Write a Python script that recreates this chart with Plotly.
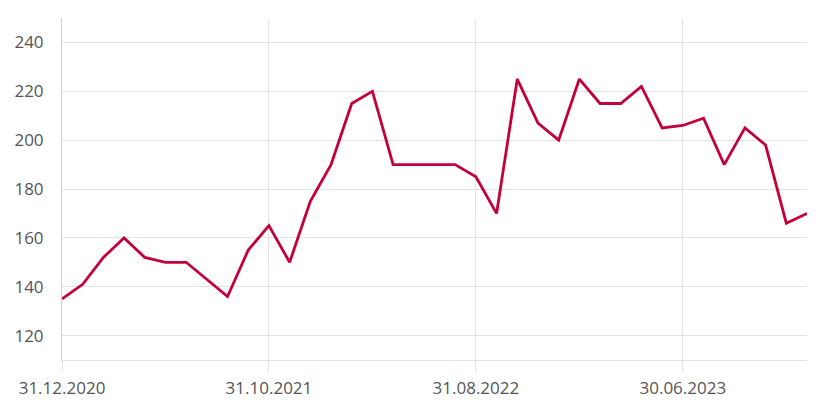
import plotly.graph_objects as go

dates = ["31.12.2020", "31.01.2021", "28.02.2021", "31.03.2021", "30.04.2021", "31.05.2021",
         "30.06.2021", "31.07.2021", "31.08.2021", "30.09.2021", "31.10.2021", "30.11.2021",
         "31.12.2021", "31.01.2022", "28.02.2022", "31.03.2022", "30.04.2022", "31.05.2022",
         "30.06.2022", "31.07.2022", "31.08.2022", "30.09.2022", "31.10.2022", "30.11.2022",
         "31.12.2022", "31.01.2023", "28.02.2023", "31.03.2023", "30.04.2023", "31.05.2023",
         "30.06.2023", "31.07.2023", "31.08.2023", "30.09.2023", "31.10.2023", "30.11.2023",
         "31.12.2023"]
values = [135, 141, 152, 160, 152, 150, 150, 143, 136, 155, 165, 150,
          175, 190, 215, 220, 190, 190, 190, 190, 185, 170, 225, 207,
          200, 225, 215, 215, 222, 205, 206, 209, 190, 205, 198, 166, 170]
x_ticks = ["31.12.2020", "31.10.2021", "31.08.2022", "30.06.2023"]
y_ticks = [120, 140, 160, 180, 200, 220, 240]

fig = go.Figure()
fig.add_trace(go.Scatter(x=dates, y=values, mode="lines",
                         line=dict(color="#C4003C", width=2.8)))

grid = "#e3e3e3"
fig.update_layout(
    width=821, height=401,
    margin=dict(l=54, r=22, t=10, b=49),
    paper_bgcolor="white", plot_bgcolor="white",
    showlegend=False,
    font=dict(family="Open Sans", size=17, color="#555555"),
    xaxis=dict(type="category", range=[0, 36], tickmode="array", tickvals=x_ticks,
               showgrid=True, gridcolor=grid, gridwidth=1,
               showline=True, linecolor=grid, linewidth=1,
               ticks="outside", ticklen=10, tickcolor=grid, zeroline=False,
               ticklabelstandoff=3, automargin=False),
    yaxis=dict(range=[110, 250], tickmode="array", tickvals=y_ticks,
               showgrid=True, gridcolor=grid, gridwidth=1,
               showline=True, linecolor="#d0d0d0", linewidth=1,
               ticks="", ticklabelstandoff=14, zeroline=False, automargin=False),
)
fig.write_html("out.html")
